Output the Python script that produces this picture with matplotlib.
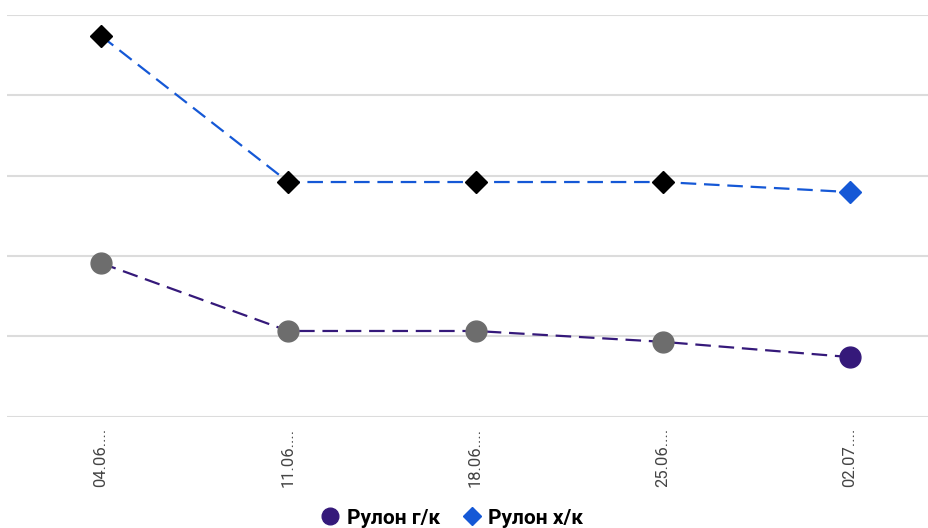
import matplotlib.pyplot as plt
from matplotlib.lines import Line2D

plt.rcParams['font.family'] = ['Roboto', 'DejaVu Sans']

# data
dates = ['04.06....', '11.06....', '18.06....', '25.06....', '02.07....']
rulon_hk = [47400, 29200, 29200, 29200, 27950]   # Рулон х/к
rulon_gk = [19100, 10650, 10650, 9300, 7400]     # Рулон г/к

blue = '#1558d6'
purple = '#35197a'

fig = plt.figure(figsize=(9.29, 5.28), dpi=100)
ax = fig.add_axes([7.4 / 929, (528 - 416.5) / 528, 936.2 / 929, 401.5 / 528])

x = list(range(len(dates)))

# линия х/к
ax.plot(x, rulon_hk, color=blue, linestyle=(0, (7, 3.5)), linewidth=1.6, zorder=3)
ax.plot(x[:-1], rulon_hk[:-1], linestyle='none', marker='D', markersize=11,
        color='black', zorder=4)
ax.plot(x[-1:], rulon_hk[-1:], linestyle='none', marker='D', markersize=11,
        color=blue, zorder=4)

# линия г/к
ax.plot(x, rulon_gk, color=purple, linestyle=(0, (7, 3.5)), linewidth=1.6, zorder=3)
ax.plot(x[:-1], rulon_gk[:-1], linestyle='none', marker='o', markersize=15,
        color='#6d6d6d', zorder=4)
ax.plot(x[-1:], rulon_gk[-1:], linestyle='none', marker='o', markersize=15,
        color=purple, zorder=4)

ax.set_xlim(-0.5, 4.5)
ax.set_ylim(0, 50000)
ax.set_yticks(range(0, 50001, 10000))
ax.set_yticklabels([])
ax.tick_params(axis='y', length=0)
ax.grid(axis='y', color='#dcdcdc', linewidth=1.5)
ax.set_axisbelow(True)
for s in ax.spines.values():
    s.set_visible(False)

ax.set_xticks(x)
ax.set_xticklabels(dates, rotation=90, fontsize=12, color='#444444')
ax.tick_params(axis='x', length=0, pad=8)

handles = [
    Line2D([], [], linestyle='none', marker='o', markersize=12, color=purple),
    Line2D([], [], linestyle='none', marker='D', markersize=9, color=blue),
]
fig.legend(handles, ['Рулон г/к', 'Рулон х/к'], loc='lower center',
           bbox_to_anchor=(0.485, -0.035), ncol=2, frameon=False,
           prop={'weight': 'bold', 'size': 15}, handletextpad=0.2,
           columnspacing=0.9, handlelength=1.2)

fig.savefig('out.png', dpi=100)
